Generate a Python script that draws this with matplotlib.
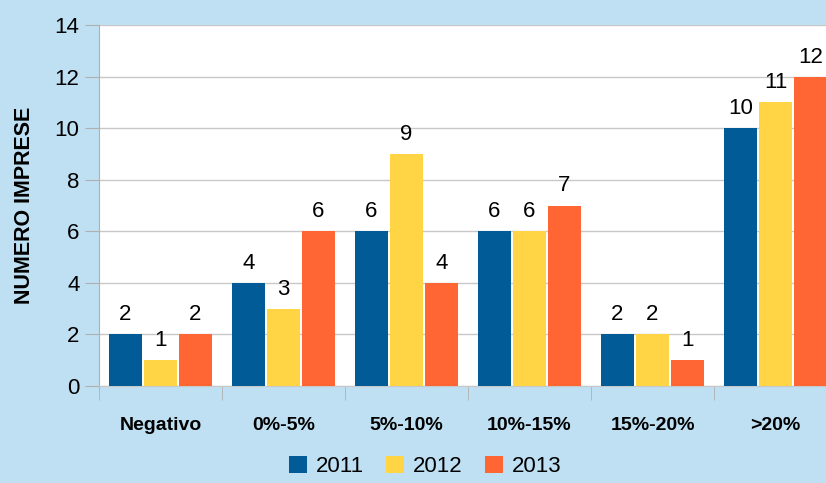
import numpy as np
from matplotlib import pyplot as plt

# Dati
categorie = ["Negativo", "0%-5%", "5%-10%", "10%-15%", "15%-20%", ">20%"]
anni = ["2011", "2012", "2013"]
v2011 = [2, 4, 6, 6, 2, 10]
v2012 = [1, 3, 9, 6, 2, 11]
v2013 = [2, 6, 4, 7, 1, 12]
colori = ["#005B96", "#FFD545", "#FF6633"]

plt.rcParams['font.family'] = ['Liberation Sans Narrow', 'Liberation Sans', 'DejaVu Sans']

fig = plt.figure(figsize=(8.26, 4.83), dpi=100)
fig.patch.set_facecolor("#BEE0F2")
ax = fig.add_axes([99 / 826, 97 / 483, 738 / 826, 361 / 483])
ax.set_facecolor("white")

x = np.arange(len(categorie))
w = 0.27
gap = 0.015
for i, (vals, anno) in enumerate(zip([v2011, v2012, v2013], anni)):
    pos = x + (i - 1) * (w + gap)
    bars = ax.bar(pos, vals, w, color=colori[i], label=anno, zorder=3)
    for b, v in zip(bars, vals):
        ax.text(b.get_x() + b.get_width() / 2, v + 0.35, str(v),
                ha='center', va='bottom', fontsize=16, zorder=4)

ax.set_xlim(-0.5, len(categorie) - 0.5)
ax.set_ylim(0, 14)
ax.set_yticks(range(0, 15, 2))
ax.tick_params(axis='y', labelsize=16, length=10, color="#B0B0B0", pad=4)
ax.set_xticks(x)
ax.set_xticklabels(categorie, fontsize=14, fontweight='bold')
ax.set_xticks(np.arange(-0.5, len(categorie)), minor=True)
ax.tick_params(axis='x', which='major', length=0, pad=22)
ax.tick_params(axis='x', which='minor', length=10, color="#B0B0B0")
ax.grid(axis='y', color="#C8C8C8", linewidth=1, zorder=0)
for s in ['top', 'right']:
    ax.spines[s].set_visible(False)
ax.spines['left'].set_color("#B0B0B0")
ax.spines['bottom'].set_color("#C8C8C8")

ax.set_ylabel("NUMERO IMPRESE", fontsize=15.5, fontweight='bold', labelpad=14)

fig.legend(loc='lower center', bbox_to_anchor=(0.515, -0.03), ncol=3, frameon=False,
           fontsize=16, handlelength=0.8, handleheight=0.8, handletextpad=0.4,
           columnspacing=1.0)

plt.savefig("out.png", dpi=100, facecolor=fig.get_facecolor())
